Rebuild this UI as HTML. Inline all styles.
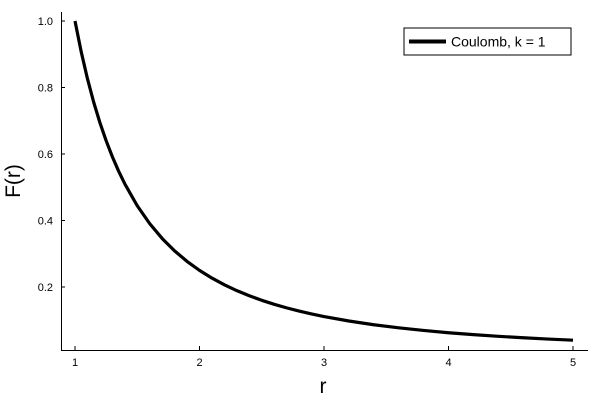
<!DOCTYPE html>
<html>
<head>
<meta charset="utf-8">
<style>
  html, body { margin: 0; padding: 0; background: #fff; }
  svg { display: block; font-family: "Liberation Sans", "DejaVu Sans", sans-serif; }
</style>
</head>
<body>
<svg id="chart" width="600" height="400" viewBox="0 0 600 400">
  <g id="axes"></g>
  <g id="series"></g>
  <g id="legend">
    <rect x="404" y="28" width="167" height="27" fill="#fff" stroke="#000" stroke-width="1"/>
    <line x1="409" y1="41.5" x2="446" y2="41.5" stroke="#000" stroke-width="4"/>
    <text x="451" y="46.5" font-size="14" fill="#000">Coulomb, k = 1</text>
  </g>
  <text x="323" y="393" font-size="21" text-anchor="middle" fill="#000">r</text>
  <text transform="translate(20,181) rotate(-90)" font-size="21" text-anchor="middle" fill="#000">F(r)</text>
</svg>
<script>
const rValues = [1.0,1.05,1.1,1.15,1.2,1.25,1.3,1.35,1.4,1.5,1.6,1.7,1.8,1.9,2.0,2.1,2.2,2.3,2.4,2.5,2.6,2.7,2.8,2.9,3.0,3.2,3.4,3.6,3.8,4.0,4.2,4.4,4.6,4.8,5.0];
const fValues = [1,0.9070,0.8264,0.7561,0.6944,0.64,0.5917,0.5487,0.5102,0.4444,0.3906,0.3460,0.3086,0.2770,0.25,0.2268,0.2066,0.1890,0.1736,0.16,0.1479,0.1372,0.1276,0.1189,0.1111,0.0977,0.0865,0.0772,0.0693,0.0625,0.0567,0.0517,0.0473,0.0434,0.04];
const xTicks = [1,2,3,4,5];
const yTicks = [0.2,0.4,0.6,0.8,1.0];
const yTickLabels = ["0.2","0.4","0.6","0.8","1.0"];

const NS = "http://www.w3.org/2000/svg";
function xs(r){ return 75 + (r - 1) * 124.5; }
function ys(v){ return 21 + (1 - v) * 332.5; }
function mk(tag, attrs, parent){
  const e = document.createElementNS(NS, tag);
  for (const k in attrs) e.setAttribute(k, attrs[k]);
  parent.appendChild(e);
  return e;
}
const axes = document.getElementById('axes');
const xAxis = mk('line', {x1:61, y1:350.5, x2:588, y2:350.5, stroke:'#000', 'stroke-width':1}, axes);


const yAxis = mk('line', {x1:61.5, y1:12, x2:61.5, y2:351, stroke:'#000', 'stroke-width':1}, axes);



xTicks.forEach(function(t){
  const x = xs(t);
  const tk = mk('line', {x1:x, y1:350, x2:x, y2:346, stroke:'#000', 'stroke-width':1}, axes);
  
  
  const lb = mk('text', {x:x, y:366, 'font-size':11, 'text-anchor':'middle', fill:'#000'}, axes);
  lb.textContent = String(t);
  
  
});
yTicks.forEach(function(t, i){
  const y = ys(t);
  const tk = mk('line', {x1:61, y1:y, x2:65, y2:y, stroke:'#000', 'stroke-width':1}, axes);
  
  
  const lb = mk('text', {x:53, y:y + 4, 'font-size':11, 'text-anchor':'end', fill:'#000'}, axes);
  lb.textContent = yTickLabels[i];
  
  
});

const pts = rValues.map(function(r, i){ return xs(r).toFixed(2) + ',' + ys(fValues[i]).toFixed(2); }).join(' ');
const line = mk('polyline', {points:pts, fill:'none', stroke:'#000', 'stroke-width':3.2, 'stroke-linejoin':'round', 'stroke-linecap':'butt'}, document.getElementById('series'));


</script>
</body>
</html>
